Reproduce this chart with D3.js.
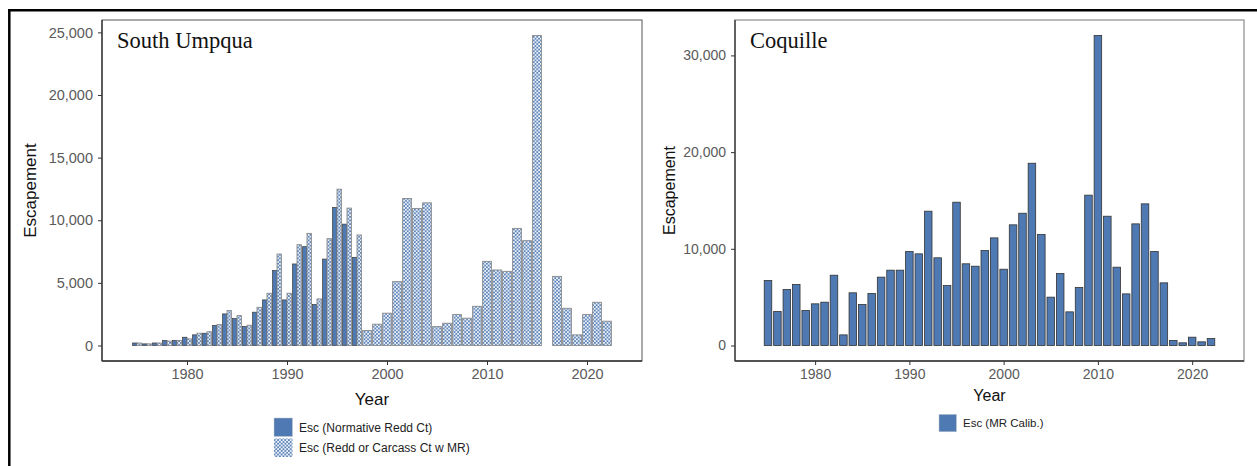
<!DOCTYPE html>
<html><head><meta charset="utf-8">
<script src="https://cdn.jsdelivr.net/npm/d3@7"></script>
<style>html,body{margin:0;padding:0;background:#fff;}svg{display:block;}</style>
</head><body><svg id="c" width="1257" height="466"></svg>
<script>
const years = d3.range(1975, 2023);
// South Umpqua: Esc (Normative Redd Ct), 1975-1997
const suNormYears = d3.range(1975, 1998);
const suNorm = [200,130,200,400,400,660,850,980,1600,2520,2150,1510,2660,3640,5980,3640,6510,7890,3270,6900,11020,9690,7040];
// South Umpqua: Esc (Redd or Carcass Ct w MR), 1975-2022 (2016 missing)
const suMR = [200,130,200,350,400,530,980,1100,1670,2790,2390,1620,3050,4170,7300,4170,8050,8950,3720,8530,12480,10970,8820,
  1200,1700,2580,5100,11740,10940,11390,1510,1780,2470,2180,3130,6720,6030,5920,9350,8370,24750,null,5520,2970,850,2470,3450,1940];
// Coquille: Esc (MR Calib.), 1975-2022
const coq = [6720,3520,5790,6310,3620,4310,4480,7270,1100,5450,4240,5380,7070,7790,7790,9720,9480,13890,9070,6200,14820,8450,8200,9820,11130,7890,12480,13680,18850,11480,5000,7450,3480,6000,15550,32060,13370,8100,5340,12580,14650,9720,6480,520,280,860,380,720];
const xTicks = [1980,1990,2000,2010,2020];
const suYTicks = [0,5000,10000,15000,20000,25000];
const coqYTicks = [0,10000,20000,30000];
const titles = ["South Umpqua","Coquille"];
const legendSU = ["Esc (Normative Redd Ct)","Esc (Redd or Carcass Ct w MR)"];
const legendCoq = ["Esc (MR Calib.)"];

const BLUE = "#4e79b3";
const svg = d3.select("#c");
const defs = svg.append("defs");
const pat = defs.append("pattern").attr("id","dots").attr("patternUnits","userSpaceOnUse")
  .attr("width",3.6).attr("height",3.6);
pat.append("rect").attr("width",3.6).attr("height",3.6).attr("fill","#eef3fa");
pat.append("circle").attr("cx",0.9).attr("cy",0.9).attr("r",1.0).attr("fill",BLUE);
pat.append("circle").attr("cx",2.7).attr("cy",2.7).attr("r",1.0).attr("fill",BLUE);

// outer border lines
svg.append("line").attr("x1",8).attr("x2",1257).attr("y1",10.3).attr("y2",10.3).attr("stroke","#000").attr("stroke-width",2.5);
svg.append("line").attr("x1",9.3).attr("x2",9.3).attr("y1",9).attr("y2",466).attr("stroke","#000").attr("stroke-width",2.5);

function panel(cfg){
  const g = svg.append("g");
  const x = d3.scaleLinear().domain([1971.5,2025.5]).range([cfg.x0,cfg.x1]);
  const ymax = cfg.ymax;
  const y = d3.scaleLinear().domain([-0.05*ymax, 1.05*ymax]).range([cfg.y1,cfg.y0]);
  const step = x(1976)-x(1975);
  // frame
  g.append("rect").attr("x",cfg.x0).attr("y",cfg.y0).attr("width",cfg.x1-cfg.x0).attr("height",cfg.y1-cfg.y0)
    .attr("fill","none").attr("stroke",cfg.frame).attr("stroke-width",cfg.frameW);
  cfg.draw(g,x,y,step);
  g.append("line").attr("x1",cfg.x0).attr("x2",cfg.x0).attr("y1",cfg.y0).attr("y2",cfg.y1).attr("stroke","#333").attr("stroke-width",1.3);
  g.append("line").attr("x1",cfg.x0).attr("x2",cfg.x1).attr("y1",cfg.y1).attr("y2",cfg.y1).attr("stroke","#333").attr("stroke-width",1.3);
  // axes
  const ya = g.append("g").attr("transform",`translate(${cfg.x0},0)`)
    .call(d3.axisLeft(y).tickValues(cfg.yTicks).tickFormat(d3.format(",")).tickSize(4).tickPadding(5));
  const xa = g.append("g").attr("transform",`translate(0,${cfg.y1})`)
    .call(d3.axisBottom(x).tickValues(xTicks).tickFormat(d3.format("d")).tickSize(4).tickPadding(4));
  [ya,xa].forEach(a=>{
    a.select(".domain").remove();
    a.selectAll(".tick line").attr("stroke","#333");
    a.selectAll("text").attr("fill","#5a5a5a").style("font-family","'Liberation Sans',Arial,sans-serif").style("font-size",cfg.tickFs+"px");
  });
  // titles
  g.append("text").attr("x",cfg.x0+15).attr("y",48).text(cfg.title)
    .style("font-family","'Liberation Serif',serif").style("font-size","22.5px").attr("fill","#111");
  g.append("text").attr("x",(cfg.x0+cfg.x1)/2).attr("y",cfg.yearY).attr("text-anchor","middle").text("Year")
    .style("font-family","'Liberation Sans',Arial,sans-serif").style("font-size",cfg.titleFs+"px").attr("fill","#111");
  g.append("text").attr("transform",`translate(${cfg.escX},${(cfg.y0+cfg.y1)/2}) rotate(-90)`).attr("text-anchor","middle").text("Escapement")
    .style("font-family","'Liberation Sans',Arial,sans-serif").style("font-size",cfg.titleFs+"px").attr("fill","#111");
  return g;
}

panel({x0:102,x1:642,y0:20,y1:361, ymax:d3.max(suMR.concat(suNorm)), yTicks:suYTicks, title:titles[0],
  frame:"#555", frameW:1, tickFs:14.5, titleFs:17, yearY:405, escX:36,
  draw:(g,x,y,step)=>{
    const bw = 0.88*step;
    const hasNorm = new Set(suNormYears);
    g.selectAll(".n").data(suNormYears.map((yr,i)=>({yr,v:suNorm[i]}))).join("rect")
      .attr("x",d=>x(d.yr)-bw/2).attr("width",bw/2)
      .attr("y",d=>y(d.v)).attr("height",d=>y(0)-y(d.v))
      .attr("fill",BLUE).attr("stroke","#3a3a3a").attr("stroke-width",0.7);
    g.selectAll(".m").data(years.map((yr,i)=>({yr,v:suMR[i]})).filter(d=>d.v!=null)).join("rect")
      .attr("x",d=>hasNorm.has(d.yr)? x(d.yr) : x(d.yr)-bw/2).attr("width",d=>hasNorm.has(d.yr)? bw/2 : bw)
      .attr("y",d=>y(d.v)).attr("height",d=>y(0)-y(d.v))
      .attr("fill","url(#dots)").attr("stroke","#8a8a8a").attr("stroke-width",0.9);
  }});

panel({x0:735,x1:1244,y0:20,y1:361, ymax:d3.max(coq), yTicks:coqYTicks, title:titles[1],
  frame:"#a8a8a8", frameW:1.6, tickFs:14, titleFs:16, yearY:401, escX:675,
  draw:(g,x,y,step)=>{
    const bw = 0.8*step;
    g.selectAll(".c").data(years.map((yr,i)=>({yr,v:coq[i]}))).join("rect")
      .attr("x",d=>x(d.yr)-bw/2).attr("width",bw)
      .attr("y",d=>y(d.v)).attr("height",d=>y(0)-y(d.v))
      .attr("fill",BLUE).attr("stroke","#333").attr("stroke-width",0.8);
  }});

// legends
const lf = "'Liberation Sans',Arial,sans-serif";
svg.append("rect").attr("x",274).attr("y",418).attr("width",18.5).attr("height",18.5).attr("fill",BLUE).attr("stroke","#ccc").attr("stroke-width",0.5);
svg.append("rect").attr("x",274).attr("y",438.5).attr("width",18.5).attr("height",18.5).attr("fill","url(#dots)");
svg.append("text").attr("x",299).attr("y",427.5).attr("dy","0.35em").text(legendSU[0]).style("font-family",lf).style("font-size","12px").attr("fill","#222");
svg.append("text").attr("x",299).attr("y",448).attr("dy","0.35em").text(legendSU[1]).style("font-family",lf).style("font-size","12px").attr("fill","#222");
svg.append("rect").attr("x",939).attr("y",414.3).attr("width",17.5).attr("height",17.5).attr("fill",BLUE).attr("stroke","#ccc").attr("stroke-width",0.5);
svg.append("text").attr("x",963).attr("y",423.3).attr("dy","0.35em").text(legendCoq[0]).style("font-family",lf).style("font-size","11.5px").attr("fill","#222");
</script></body></html>
